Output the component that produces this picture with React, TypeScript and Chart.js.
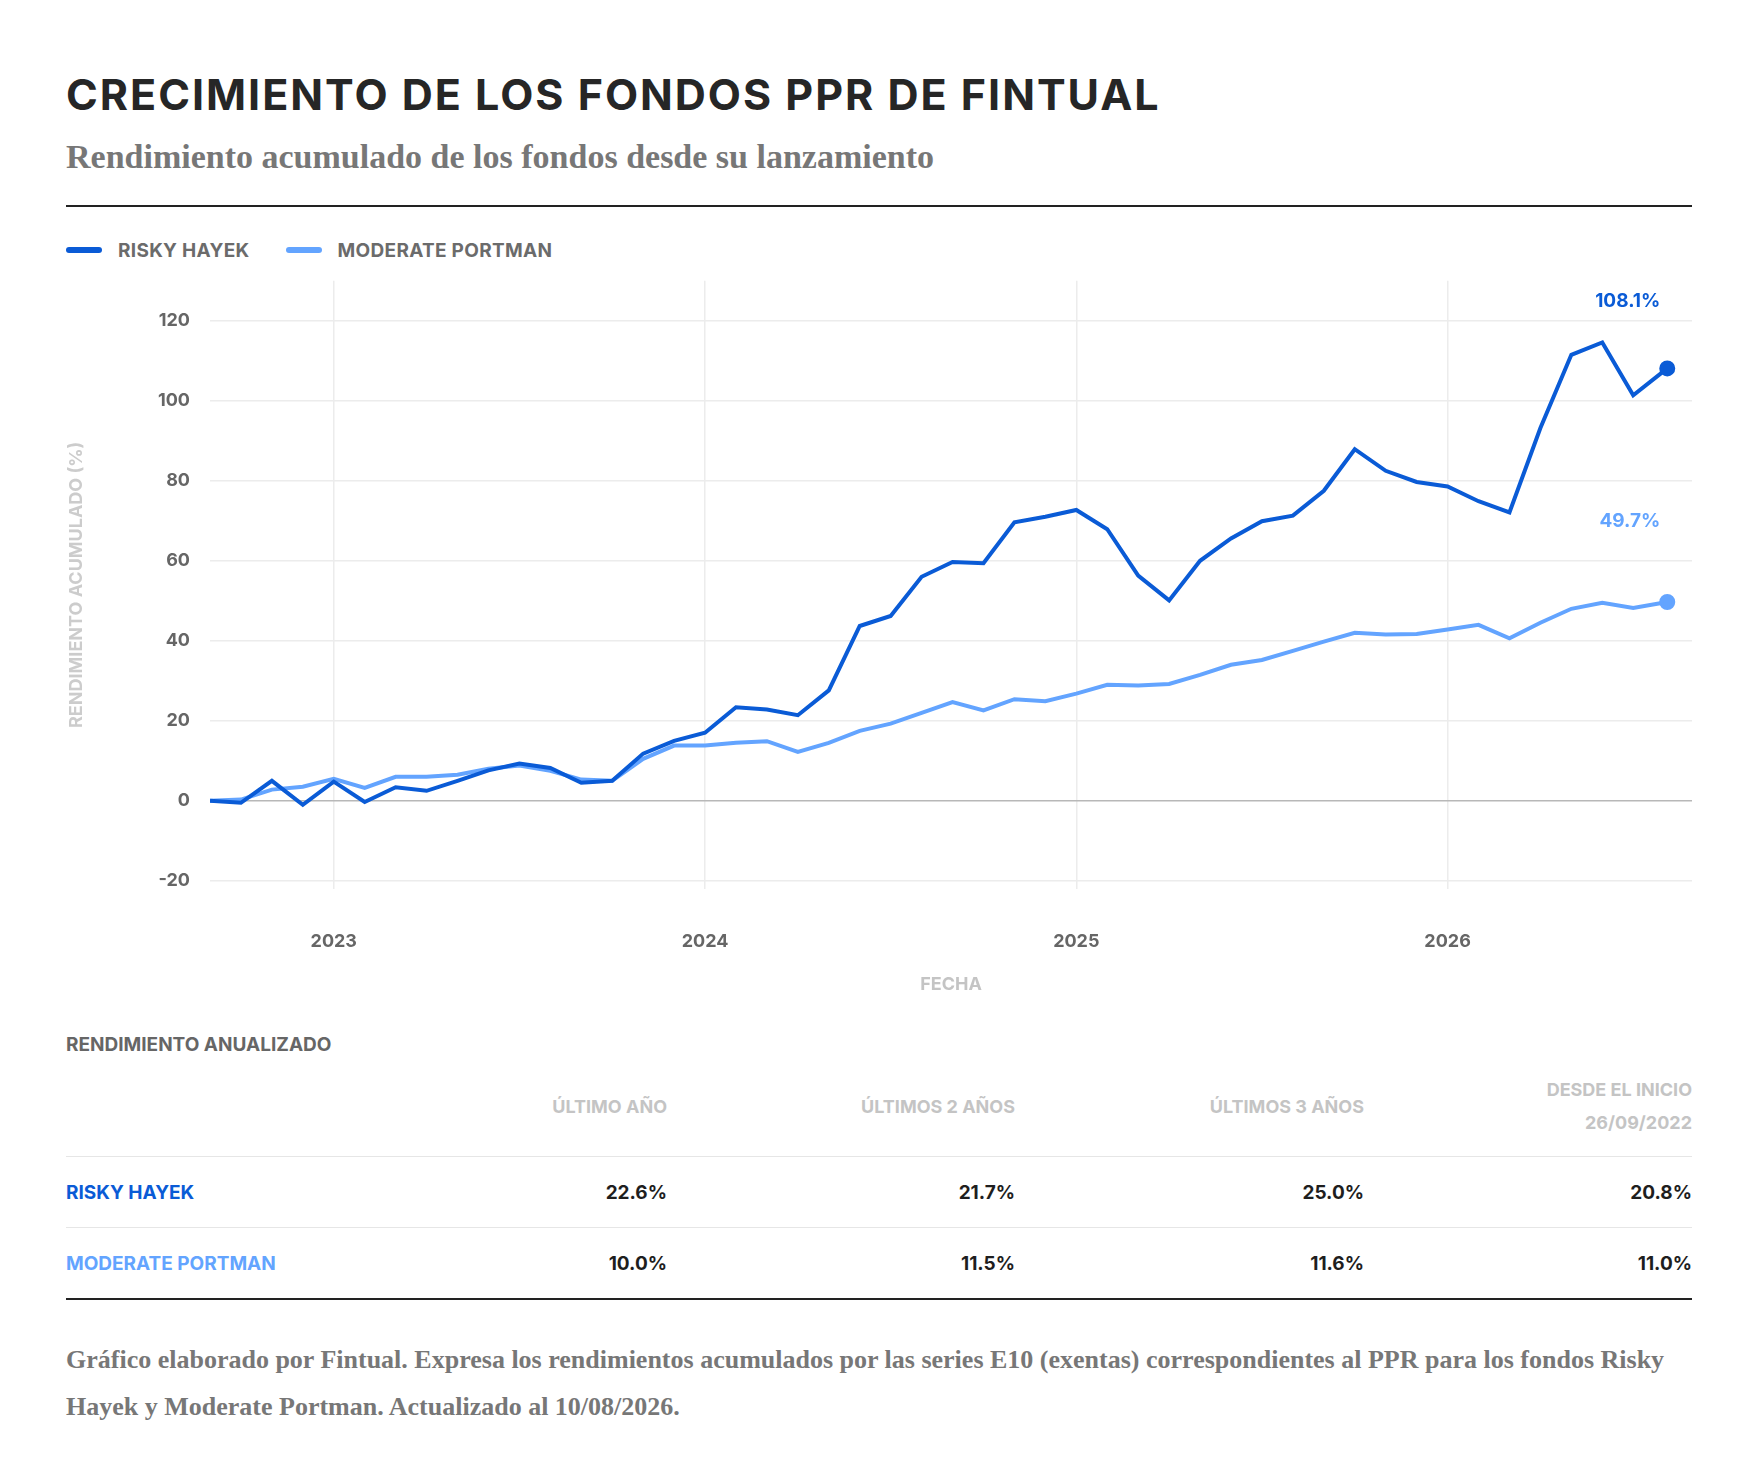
import React, { useEffect, useRef } from 'react';
import { Chart, registerables } from 'chart.js';
Chart.register(...registerables);

// months since Sep 2022 (last point = 10/08/2026)
const monthIdx = Array.from({ length: 48 }, (_, i) => (i === 47 ? 47.1 : i));
const riskyHayek = [0, -0.5, 5, -1, 4.8, -0.3, 3.4, 2.5, 5, 7.6, 9.3, 8.2, 4.5, 5, 11.8, 15, 17, 23.4, 22.8, 21.4, 27.6, 43.7, 46.2, 56, 59.7, 59.4, 69.6, 71, 72.7, 67.9, 56.3, 50.1, 60, 65.6, 69.9, 71.3, 77.5, 87.9, 82.5, 79.7, 78.6, 74.9, 72.1, 93.2, 111.5, 114.6, 101.4, 108.1];
const moderatePortman = [0, 0.3, 2.8, 3.5, 5.5, 3.2, 6, 6, 6.5, 8, 8.8, 7.5, 5.3, 5, 10.5, 13.8, 13.8, 14.5, 14.9, 12.2, 14.5, 17.5, 19.3, 22, 24.7, 22.6, 25.4, 24.9, 26.8, 29, 28.8, 29.2, 31.5, 34, 35.2, 37.5, 39.8, 42, 41.6, 41.7, 42.8, 44, 40.6, 44.5, 48, 49.5, 48.2, 49.7];
const yearTicks = [4, 16, 28, 40];
const yearLabels = ['2023', '2024', '2025', '2026'];
const yTicks = [-20, 0, 20, 40, 60, 80, 100, 120];

const tableCols = ['ÚLTIMO AÑO', 'ÚLTIMOS 2 AÑOS', 'ÚLTIMOS 3 AÑOS'];
const riskyAnnual = ['22.6%', '21.7%', '25.0%', '20.8%'];
const moderateAnnual = ['10.0%', '11.5%', '11.6%', '11.0%'];

const DARK = '#0a5bd6';
const LIGHT = '#63a4ff';
const SANS = 'Inter, "Open Sans", sans-serif';
const SERIF = '"Liberation Serif", serif';
const COLW = [348, 348, 349, 328];

const endLabels = {
  id: 'endLabels',
  afterDatasetsDraw(chart: any) {
    const ctx = chart.ctx;
    const offs = [67, 81];
    chart.data.datasets.forEach((ds: any, i: number) => {
      const meta = chart.getDatasetMeta(i);
      const p = meta.data[meta.data.length - 1];
      const v = ds.data[ds.data.length - 1].y;
      ctx.save();
      ctx.fillStyle = ds.borderColor;
      ctx.font = `700 19px ${SANS}`;
      ctx.textAlign = 'right';
      ctx.textBaseline = 'middle';
      ctx.fillText(v.toFixed(1) + '%', p.x - 7, p.y - offs[i]);
      ctx.restore();
    });
  },
};

function LineChart() {
  const ref = useRef<HTMLCanvasElement | null>(null);
  useEffect(() => {
    const mk = (vals: number[]) => vals.map((y, i) => ({ x: monthIdx[i], y }));
    const lastOnly = (n: number) => (c: any) => (c.dataIndex === n - 1 ? 6 : 0);
    const chart = new Chart(ref.current!, {
      type: 'line',
      data: {
        datasets: [
          { label: 'RISKY HAYEK', data: mk(riskyHayek), borderColor: DARK, backgroundColor: DARK, borderWidth: 4, pointRadius: lastOnly(riskyHayek.length), tension: 0 },
          { label: 'MODERATE PORTMAN', data: mk(moderatePortman), borderColor: LIGHT, backgroundColor: LIGHT, borderWidth: 4, pointRadius: lastOnly(moderatePortman.length), tension: 0 },
        ],
      },
      options: {
        animation: false,
        responsive: false,
        layout: { padding: { top: 11, right: 0 }, autoPadding: false },
        plugins: { legend: { display: false }, tooltip: { enabled: false } },
        scales: {
          x: {
            type: 'linear', min: 0, max: 47.9,
            afterBuildTicks: (ax: any) => { ax.ticks = yearTicks.map((v) => ({ value: v })); },
            ticks: { callback: (v: any) => yearLabels[yearTicks.indexOf(v)] ?? '', color: '#666', font: { family: SANS, size: 18, weight: 700 }, padding: 42 },
            grid: { color: '#ececec', lineWidth: 1.5, drawTicks: false },
            border: { display: false },
            title: { display: true, text: 'FECHA', color: '#c4c4c4', font: { family: SANS, size: 18, weight: 700 }, padding: { top: -21 } },
          },
          y: {
            min: -22, max: 130,
            afterBuildTicks: (ax: any) => { ax.ticks = yTicks.map((v) => ({ value: v })); },
            afterFit: (ax: any) => { ax.width = 144; },
            ticks: { color: '#666', font: { family: SANS, size: 18, weight: 700 }, padding: 20 },
            grid: { color: (c: any) => (c.tick && c.tick.value === 0 ? '#b8b8b8' : '#ececec'), lineWidth: 1.5, drawTicks: false },
            border: { display: false },
            title: { display: true, text: 'RENDIMIENTO ACUMULADO (%)', color: '#cccccc', font: { family: SANS, size: 18, weight: 700 }, padding: 0 },
          },
        },
      },
      plugins: [endLabels],
    } as any);
    return () => chart.destroy();
  }, []);
  return <canvas ref={ref} width={1626} height={749} style={{ display: 'block', width: 1626, height: 749 }} />;
}

export default function App() {
  useEffect(() => { document.body.style.margin = '0'; }, []);
  const legendItem = (color: string, text: string) => (
    <div style={{ display: 'flex', alignItems: 'center', marginRight: 36 }}>
      <div style={{ width: 36, height: 6, borderRadius: 3, background: color, marginRight: 16 }} />
      <span style={{ fontFamily: SANS, fontWeight: 700, fontSize: 19, color: '#6b6b6b', letterSpacing: 0.3 }}>{text}</span>
    </div>
  );
  const row = (name: string, color: string, vals: string[], border: string) => (
    <div style={{ display: 'flex', alignItems: 'center', height: 70, borderBottom: border, fontFamily: SANS, fontWeight: 700, fontSize: 19 }}>
      <div style={{ width: 253, color }}>{name}</div>
      {vals.map((v, i) => (
        <div key={i} style={{ width: COLW[i], textAlign: 'right', color: '#1e1e1e' }}>{v}</div>
      ))}
    </div>
  );
  return (
    <div style={{ width: 1762, background: '#fff', padding: '0 70px 0 66px', boxSizing: 'border-box' }}>
      <div style={{ paddingTop: 68, fontFamily: SANS, fontWeight: 700, fontSize: 43, letterSpacing: 2, color: '#262626' }}>CRECIMIENTO DE LOS FONDOS PPR DE FINTUAL</div>
      <div style={{ marginTop: 18, fontFamily: SERIF, fontSize: 34, color: '#777', fontWeight: 600 }}>Rendimiento acumulado de los fondos desde su lanzamiento</div>
      <div style={{ marginTop: 29, height: 2, background: '#222' }} />
      <div style={{ display: 'flex', marginTop: 31, height: 24 }}>
        {legendItem(DARK, 'RISKY HAYEK')}
        {legendItem(LIGHT, 'MODERATE PORTMAN')}
      </div>
      <div style={{ marginTop: -12 }}><LineChart /></div>
      <div style={{ marginTop: 34, fontFamily: SANS, fontWeight: 700, fontSize: 19, color: '#666' }}>RENDIMIENTO ANUALIZADO</div>
      <div style={{ display: 'flex', alignItems: 'center', height: 100, borderBottom: '1.5px solid #e6e6e6', fontFamily: SANS, fontWeight: 700, fontSize: 18, color: '#c4c4c4' }}>
        <div style={{ width: 253 }} />
        {tableCols.map((c, i) => <div key={c} style={{ width: COLW[i], textAlign: 'right' }}>{c}</div>)}
        <div style={{ width: COLW[3], textAlign: 'right', lineHeight: '33px' }}>DESDE EL INICIO<br />26/09/2022</div>
      </div>
      {row('RISKY HAYEK', DARK, riskyAnnual, '1.5px solid #e6e6e6')}
      {row('MODERATE PORTMAN', LIGHT, moderateAnnual, '2px solid #222')}
      <div style={{ marginTop: 36, fontFamily: SERIF, fontSize: 26, lineHeight: '47px', color: '#777', fontWeight: 600, paddingBottom: 40 }}>
        Gráfico elaborado por Fintual. Expresa los rendimientos acumulados por las series E10 (exentas) correspondientes al PPR para los fondos Risky Hayek y Moderate Portman. Actualizado al 10/08/2026.
      </div>
    </div>
  );
}
